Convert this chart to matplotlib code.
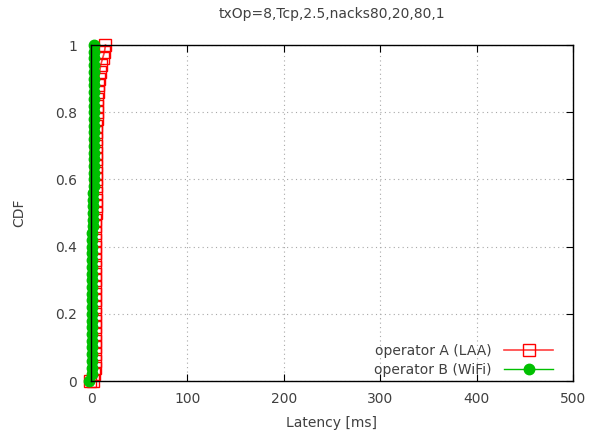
import numpy as np
import matplotlib.pyplot as plt

# CDF of latency per operator
lat_a = [-1, 2,
         3.5, 4, 4, 4, 4, 4, 4, 4, 4, 4, 4.5, 4.5, 4.5, 4.5, 4.5, 4.5, 4.5, 4.5, 4.5, 4.5,
         4.5, 4.5, 4.5, 4.5,
         5, 5, 5, 5, 5, 5, 5, 5, 5.5, 5.5, 5.5, 5.5, 5.5, 5.5, 6, 6, 6, 6.5, 7, 7.5,
         8, 9, 10, 12, 14, 15]
cdf_a = [0.00, 0.00,
         0.02, 0.04, 0.06, 0.08, 0.10, 0.12, 0.14, 0.16, 0.18, 0.20, 0.22, 0.24, 0.26, 0.28,
         0.30, 0.32, 0.34, 0.36, 0.38, 0.40, 0.42, 0.44, 0.46, 0.48,
         0.50, 0.52, 0.54, 0.56, 0.58, 0.60, 0.62, 0.64, 0.66, 0.68, 0.70, 0.72, 0.74, 0.76,
         0.78, 0.80, 0.82, 0.84, 0.86, 0.88,
         0.90, 0.92, 0.94, 0.96, 0.98, 1.00]

lat_b = [-2,
         1, 1, 1, 1, 1, 1, 1, 1.5, 1.5, 1.5, 1.5, 1.5, 1.5, 1.5, 1.5, 1.5, 1.5, 1.5, 1.5,
         1.5, 1.5, 1.5, 2, 2, 2,
         2.5, 2.5, 2.5, 3, 3, 3, 3, 3, 3, 3, 3, 3, 3, 3, 3, 3, 3, 3, 3, 3, 3, 3, 3, 3, 3]
cdf_b = [0.00,
         0.02, 0.04, 0.06, 0.08, 0.10, 0.12, 0.14, 0.16, 0.18, 0.20, 0.22, 0.24, 0.26, 0.28,
         0.30, 0.32, 0.34, 0.36, 0.38, 0.40, 0.42, 0.44, 0.46, 0.48, 0.50,
         0.52, 0.54, 0.56, 0.58, 0.60, 0.62, 0.64, 0.66, 0.68, 0.70, 0.72, 0.74, 0.76, 0.78,
         0.80, 0.82, 0.84, 0.86, 0.88, 0.90, 0.92, 0.94, 0.96, 0.98, 1.00]

x_ticks = [0, 100, 200, 300, 400, 500]
y_ticks = [0, 0.2, 0.4, 0.6, 0.8, 1]
y_labels = ['0', '0.2', '0.4', '0.6', '0.8', '1']

plt.rcParams['font.family'] = 'DejaVu Sans'
txt = '#404040'

fig = plt.figure(figsize=(5.89, 4.33), dpi=100)
ax = fig.add_axes([0.1545, 0.120, 0.8183, 0.776])

ax.plot(lat_a, cdf_a, color='#ff4040', lw=1.2, marker='s', ms=8, mfc='none',
        mec='#ff0000', mew=1, clip_on=False, label='operator A (LAA)', zorder=3)
ax.plot(lat_b, cdf_b, color='#00c000', lw=1, marker='o', ms=7.5, mfc='#00c000',
        mec='#00c000', clip_on=False, label='operator B (WiFi)', zorder=4)

ax.set_xlim(0, 500)
ax.set_ylim(0, 1)
ax.set_xticks(x_ticks)
ax.set_yticks(y_ticks)
ax.set_yticklabels(y_labels)
ax.tick_params(direction='in', top=True, right=True, length=5, colors='black',
               labelcolor=txt, labelsize=10)
ax.tick_params(axis='x', pad=8)
ax.tick_params(axis='y', pad=10)
ax.grid(True, linestyle=(0, (1, 3)), color='#a8a8a8', lw=0.8)
ax.set_axisbelow(True)
for s in ax.spines.values():
    s.set_linewidth(1)
    s.set_zorder(5)

ax.set_xlabel('Latency [ms]', color=txt, fontsize=10)
ax.xaxis.set_label_coords(0.5, -0.105)
ax.set_ylabel('CDF', color=txt, fontsize=10)
ax.yaxis.set_label_coords(-0.134, 0.5)
ax.text(0.5, 1.092, 'txOp=8,Tcp,2.5,nacks80,20,80,1', transform=ax.transAxes,
        ha='center', va='center', color=txt, fontsize=10)

leg = ax.legend(loc='lower right', bbox_to_anchor=(0.9585, 0.012), frameon=False,
                markerfirst=False, fontsize=10, handlelength=3.5, handletextpad=0.9,
                borderpad=0, borderaxespad=0, labelspacing=0.35)
for t in leg.get_texts():
    t.set_color(txt)

fig.savefig('out.png', dpi=100)
